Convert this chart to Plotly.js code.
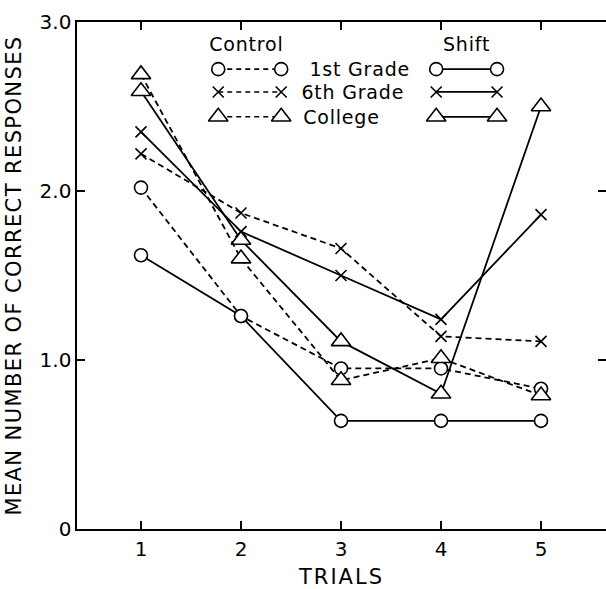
<!DOCTYPE html>
<html>
<head>
<meta charset="utf-8">
<script src="https://cdn.plot.ly/plotly-3.0.1.min.js"></script>
<style>
html,body{margin:0;padding:0;background:#fff;}
#chart{width:606px;height:589px;}
#chart text.ytitle{letter-spacing:1.4px;}
#chart text.xtitle{letter-spacing:2px;}
#chart text.annotation-text{letter-spacing:0.8px;}
</style>
</head>
<body>
<div id="chart"></div>
<script>
// ---- data ----
const trials = [1, 2, 3, 4, 5];
const control1st = [2.02, 1.26, 0.95, 0.95, 0.83];
const control6th = [2.22, 1.87, 1.66, 1.14, 1.11];
const controlCollege = [2.69, 1.60, 0.88, 1.01, 0.79];
const shift1st = [1.62, 1.26, 0.64, 0.64, 0.64];
const shift6th = [2.35, 1.76, 1.50, 1.24, 1.86];
const shiftCollege = [2.59, 1.71, 1.11, 0.80, 2.50];
const yTickVals = [0, 1, 2, 3];
const yTickText = ['0', '1.0', '2.0', '3.0'];
const groupLabels = ['1st Grade', '6th Grade', 'College'];

// ---- styles ----
const FONT = 'DejaVu Sans, sans-serif';
const symbols = ['circle', 'x-thin', 'triangle-up'];
const sizes = [13, 11, 17];
function marker(i) {
  return {symbol: symbols[i], size: sizes[i], color: i === 1 ? '#000' : '#fff',
          line: {color: '#000', width: 1.6}};
}
const dashPat = '6px,4px';

const ctrl = [control1st, control6th, controlCollege];
const shft = [shift1st, shift6th, shiftCollege];
const traces = [];
for (let i = 0; i < 3; i++) {
  traces.push({x: trials, y: shft[i], type: 'scatter', mode: 'lines+markers',
    line: {color: '#000', width: 1.8}, marker: marker(i), showlegend: false,
    name: 'Shift ' + groupLabels[i]});
  traces.push({x: trials, y: ctrl[i], type: 'scatter', mode: 'lines+markers',
    line: {color: '#000', width: 1.8, dash: dashPat}, marker: marker(i), showlegend: false,
    name: 'Control ' + groupLabels[i]});
}

// ---- hand-drawn legend (overlay axis 0..1 spanning the plot area) ----
const legRows = [0.907, 0.862, 0.813];
const ctrlX = [0.267, 0.386];
const shiftX = [0.679, 0.794];
for (let i = 0; i < 3; i++) {
  traces.push({x: ctrlX, y: [legRows[i], legRows[i]], xaxis: 'x2', yaxis: 'y2',
    type: 'scatter', mode: 'lines+markers', line: {color: '#000', width: 1.6, dash: '5px,4px'},
    marker: marker(i), showlegend: false, hoverinfo: 'skip'});
  traces.push({x: shiftX, y: [legRows[i], legRows[i]], xaxis: 'x2', yaxis: 'y2',
    type: 'scatter', mode: 'lines+markers', line: {color: '#000', width: 1.8},
    marker: marker(i), showlegend: false, hoverinfo: 'skip'});
}

const annFont = {family: FONT, size: 19, color: '#000'};
const annotations = [
  {xref: 'paper', yref: 'paper', x: 0.321, y: 0.957, text: 'Control', showarrow: false, font: annFont, xanchor: 'center', yanchor: 'middle'},
  {xref: 'paper', yref: 'paper', x: 0.736, y: 0.957, text: 'Shift', showarrow: false, font: annFont, xanchor: 'center', yanchor: 'middle'},
  {xref: 'paper', yref: 'paper', x: 0.442, y: legRows[0], text: groupLabels[0], showarrow: false, font: annFont, xanchor: 'left', yanchor: 'middle'},
  {xref: 'paper', yref: 'paper', x: 0.428, y: legRows[1], text: groupLabels[1], showarrow: false, font: annFont, xanchor: 'left', yanchor: 'middle'},
  {xref: 'paper', yref: 'paper', x: 0.430, y: legRows[2], text: groupLabels[2], showarrow: false, font: annFont, xanchor: 'left', yanchor: 'middle'}
];

const axisCommon = {
  showline: true, linecolor: '#000', linewidth: 1.6, mirror: 'ticks',
  ticks: 'inside', ticklen: 8, tickwidth: 1.6, tickcolor: '#000',
  showgrid: false, zeroline: false,
  tickfont: {family: FONT, size: 20, color: '#000'}
};

const layout = {
  width: 606, height: 589,
  margin: {l: 77, r: 0, t: 22, b: 60},
  paper_bgcolor: '#fff', plot_bgcolor: '#fff',
  font: {family: FONT, color: '#000'},
  showlegend: false,
  xaxis: Object.assign({}, axisCommon, {
    range: [0.36, 5.65], tickvals: trials, ticktext: trials.map(String),
    ticklabelstandoff: 1,
    title: {text: 'TRIALS', font: {family: FONT, size: 21, color: '#000'}, standoff: 12}
  }),
  yaxis: Object.assign({}, axisCommon, {
    range: [0, 3], tickvals: yTickVals, ticktext: yTickText,
    ticklabelstandoff: 0,
    title: {text: 'MEAN NUMBER OF CORRECT RESPONSES', font: {family: FONT, size: 21, color: '#000'}, standoff: 12}
  }),
  xaxis2: {overlaying: 'x', range: [0, 1], visible: false, fixedrange: true},
  yaxis2: {overlaying: 'y', range: [0, 1], visible: false, fixedrange: true},
  annotations: annotations
};

Plotly.newPlot('chart', traces, layout, {displayModeBar: false, staticPlot: true});
</script>
</body>
</html>
